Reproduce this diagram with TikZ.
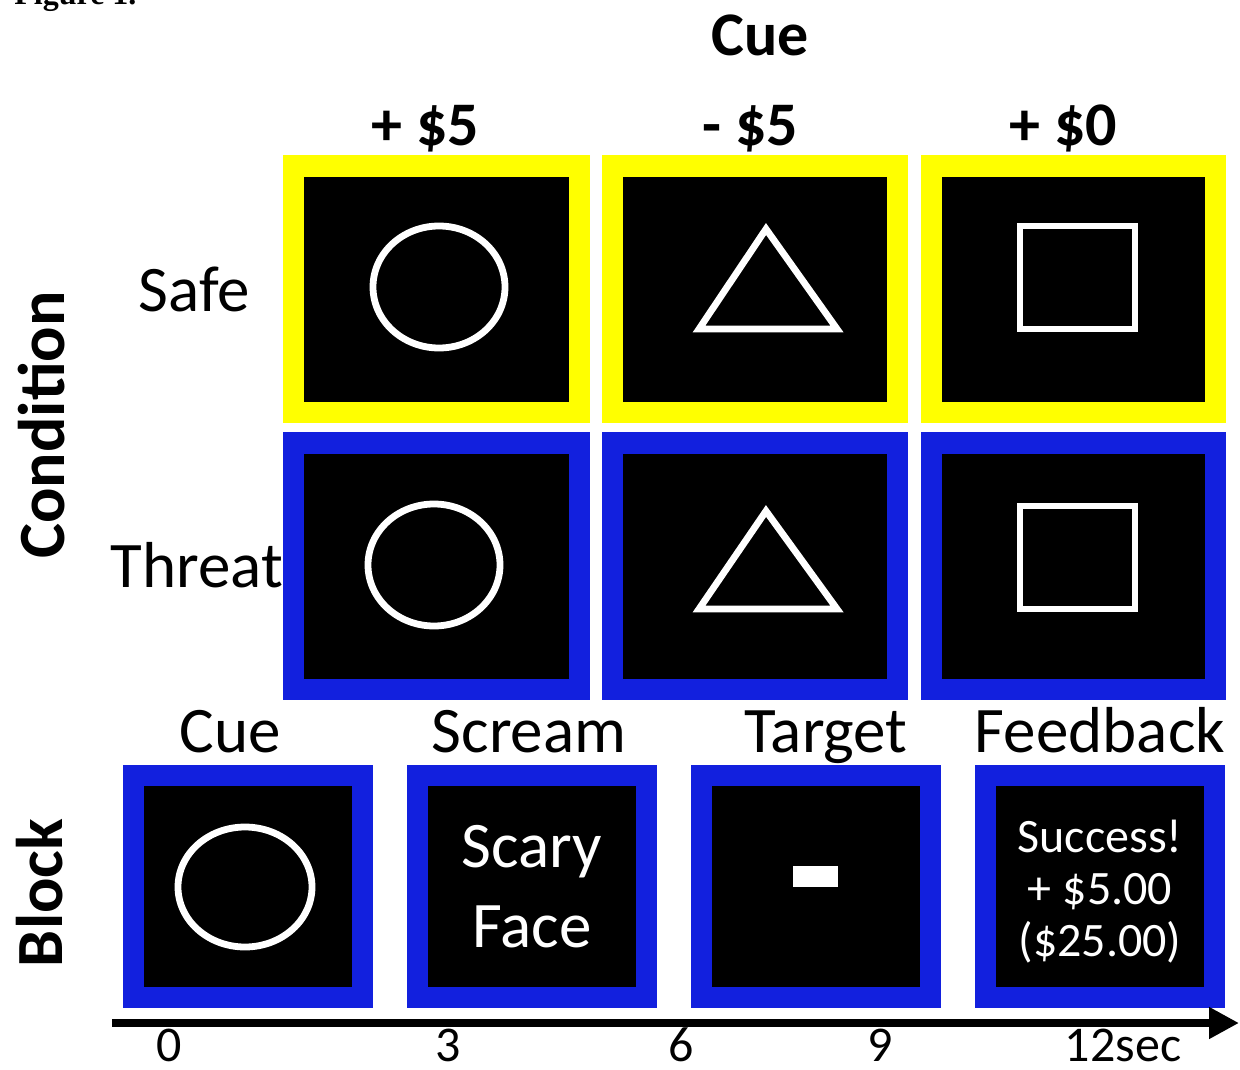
\documentclass[tikz,border=0pt]{standalone}
\usepackage{fontspec}
\setmainfont{Carlito}
\newfontfamily\figfont{Liberation Serif}
\usetikzlibrary{arrows.meta}
\definecolor{cueyellow}{RGB}{255,255,0}
\definecolor{threatblue}{RGB}{18,32,222}
\begin{document}
\begin{tikzpicture}[x=0.5pt,y=-0.5pt,
  lbl/.style={inner sep=0pt, anchor=base, font=\fontsize{32.5}{36}\selectfont},
  hdr/.style={inner sep=0pt, anchor=base, font=\fontsize{31}{34}\selectfont\bfseries},
  axis/.style={inner sep=0pt, anchor=base, rotate=90, font=\fontsize{33}{36}\selectfont\bfseries},
  tick/.style={inner sep=0pt, anchor=base, font=\fontsize{25}{28}\selectfont},
  stimtext/.style={inner sep=0pt, align=center, text=white},
  shp/.style={draw=white, line width=3.4pt},
  timeline/.style={line width=4pt, -{Triangle[length=15pt,width=15pt]}}]
\useasboundingbox (0,0) rectangle (1240,1069);
\fill[white] (0,0) rectangle (1240,1069);

% partial figure caption at the top edge
\node[anchor=base west, inner sep=0pt, font=\figfont\bfseries\fontsize{16}{18}\selectfont] (figlabel) at (14,5) {Figure 1.};

% headers
\node[hdr, font=\fontsize{31}{34}\selectfont\bfseries] (cuehead) at (760,56) {Cue};
\node[hdr] (plusfive) at (425,146) {+ \$5};
\node[hdr] (minusfive) at (750,146) {- \$5};
\node[hdr] (pluszero) at (1063,146) {+ \$0};

% row labels
\node[lbl] (safe) at (194,312) {Safe};
\node[lbl] (threat) at (197,587) {Threat};
\node[axis] (condition) at (64,425) {Condition};
\node[axis] (block) at (62,893) {Block};

% grid boxes
\foreach \xa/\xb in {283/590,602/908,921/1226} {
  \fill[cueyellow] (\xa,155) rectangle (\xb,423);
  \fill[black] (\xa+21,177) rectangle (\xb-21,402);
  \fill[threatblue] (\xa,432) rectangle (\xb,700);
  \fill[black] (\xa+21,454) rectangle (\xb-21,679);
}
% shapes
\draw[shp] (439,287) ellipse [x radius=66, y radius=61];
\draw[shp] (434,565) ellipse [x radius=66, y radius=61];
\draw[shp, line join=miter] (766,229) -- (837,329) -- (699,329) -- cycle;
\draw[shp, line join=miter] (766,511) -- (837,609) -- (699,609) -- cycle;
\draw[shp] (1020,226) rectangle (1135,329);
\draw[shp] (1020,506) rectangle (1135,609);

% block row labels
\node[lbl] (bcue) at (230,752) {Cue};
\node[lbl] (bscream) at (529,752) {Scream};
\node[lbl] (btarget) at (826,752) {Target};
\node[lbl] (bfeedback) at (1100,752) {Feedback};

% block boxes
\foreach \xa/\xb in {123/373,407/657,691/941,975/1225} {
  \fill[threatblue] (\xa,765) rectangle (\xb,1008);
  \fill[black] (\xa+21,786) rectangle (\xb-21,987);
}
\draw[shp] (245,887) ellipse [x radius=67, y radius=60];
\node[stimtext, font=\fontsize{32.5}{40}\selectfont] (scary) at (532,887) {Scary\\Face};
\fill[white] (793,866) rectangle (838,887);
\node[stimtext, font=\fontsize{24}{26}\selectfont] (success) at (1100,892) {Success!\\+ \$5.00\\(\$25.00)};

% time axis
\coordinate (tstart) at (112,1023);
\coordinate (tend) at (1239,1023);
\draw[timeline] (tstart) -- (tend);
\node[tick] (t0) at (169,1061) {0};
\node[tick] (t3) at (448,1061) {3};
\node[tick] (t6) at (681,1061) {6};
\node[tick] (t9) at (880,1061) {9};
\node[tick] (t12) at (1123,1061) {12sec};
\end{tikzpicture}
\end{document}
